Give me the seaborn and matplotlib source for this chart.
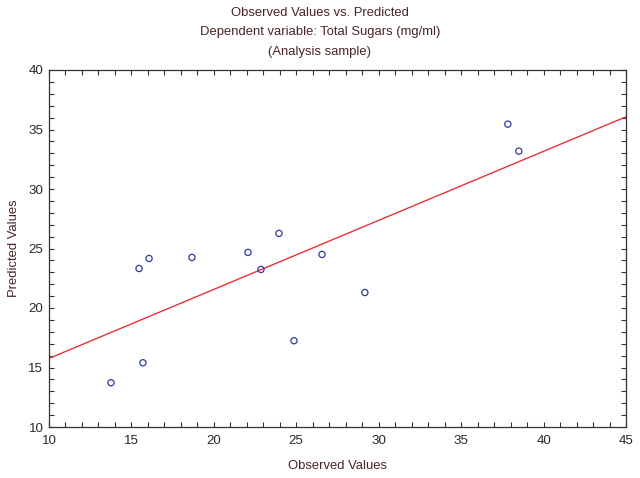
import matplotlib
matplotlib.use('Agg')
import matplotlib.pyplot as plt
from matplotlib.ticker import MultipleLocator
import pandas as pd
import seaborn as sns

# observed vs predicted
observed = [15.46, 16.07, 18.67, 22.07, 22.86, 23.95, 26.56, 24.86, 29.16, 15.70, 13.76, 37.83, 38.50]
predicted = [23.32, 24.16, 24.25, 24.67, 23.24, 26.27, 24.50, 17.25, 21.30, 15.40, 13.72, 35.45, 33.18]

title_lines = ['Observed Values vs. Predicted',
               'Dependent variable: Total Sugars (mg/ml)',
               '(Analysis sample)']

df = pd.DataFrame({'observed': observed, 'predicted': predicted})

sns.set_style('ticks')
plt.rcParams['font.family'] = ['Liberation Sans', 'DejaVu Sans']

txt_col = '#4a2424'
fig = plt.figure(figsize=(6.4, 4.78), dpi=100)
ax = fig.add_axes([49/640, 1-427/478, (626-49)/640, (427-70)/478])

ax.set_xlim(10, 45)
ax.set_ylim(10, 40)

sns.regplot(data=df, x='observed', y='predicted', ax=ax, scatter=False, ci=None,
            truncate=False, line_kws={'color': '#e8323a', 'lw': 1.0})
sns.scatterplot(data=df, x='observed', y='predicted', ax=ax, marker='o', s=20,
                facecolors='none', edgecolor='#2e3a9c', linewidth=0.9, zorder=3)

ax.set_xlim(10, 45)
ax.set_ylim(10, 40)
ax.xaxis.set_major_locator(MultipleLocator(5))
ax.xaxis.set_minor_locator(MultipleLocator(1))
ax.yaxis.set_major_locator(MultipleLocator(5))
ax.yaxis.set_minor_locator(MultipleLocator(1))
ax.tick_params(which='both', direction='in', top=True, right=True, length=3.5,
               width=0.8, color='#333333', labelsize=9.6, labelcolor='#2a2a2a')
ax.tick_params(axis='x', which='major', pad=6)
ax.tick_params(axis='y', which='major', pad=4)
for sp in ax.spines.values():
    sp.set_color('#333333')
    sp.set_linewidth(0.9)

ax.set_xlabel('Observed Values', fontsize=9.4, color=txt_col, labelpad=9)
ax.set_ylabel('Predicted Values', fontsize=9.4, color=txt_col, labelpad=6)

for i, line in enumerate(title_lines):
    fig.text(0.5, 1 - (13 + 19.5*i)/478, line, ha='center', va='center',
             fontsize=9.4, color=txt_col)

fig.savefig('out.png', dpi=100)
